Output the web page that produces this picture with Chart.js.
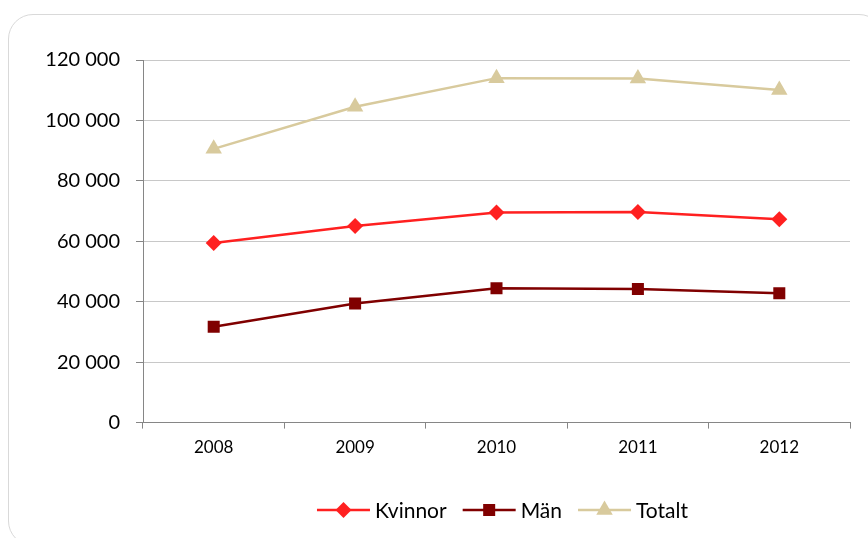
<!DOCTYPE html>
<html lang="sv">
<head>
<meta charset="utf-8">
<script src="https://cdn.jsdelivr.net/npm/chart.js@4.4.1/dist/chart.umd.min.js"></script>
<style>
  html, body { margin: 0; padding: 0; background: #fff; overflow: hidden; }
  #ram {
    position: absolute; left: 8px; top: 14px;
    width: 874px; height: 530px;
    border: 1px solid #d9d9d9; border-radius: 25px;
  }
  #wrap { position: absolute; left: 0; top: 0; width: 868px; height: 538px; }
</style>
</head>
<body>
<div id="ram"></div>
<div id="wrap"><canvas id="graf" width="868" height="538"></canvas></div>
<script>
// data läst från bilden
const ar = ['2008', '2009', '2010', '2011', '2012'];
const kvinnor = [59400, 65100, 69500, 69700, 67300];
const man = [31700, 39400, 44500, 44200, 42800];
const totalt = [90600, 104500, 114000, 113900, 110100];
const yTicks = [0, 20000, 40000, 60000, 80000, 100000, 120000];

const FONT = 'Lato';

function tusental(v) {
    return String(v).replace(/\B(?=(\d{3})+(?!\d))/g, ' ');
}

// egen legend: linje + markör + text
const legenda = {
    id: 'legenda',
    afterDraw(chart) {
        const ctx = chart.ctx;
        const y = 510;
        const lineLen = 53, gapText = 5, gapItem = 16;
        ctx.save();
        ctx.font = '21px ' + FONT;
        const items = chart.data.datasets.map(ds => ({
            ds: ds,
            w: lineLen + gapText + ctx.measureText(ds.label).width
        }));
        const total = items.reduce((s, it) => s + it.w, 0) + gapItem * (items.length - 1);
        let x = (chart.chartArea.left + chart.chartArea.right) / 2 + 6 - total / 2;
        items.forEach(it => {
            const ds = it.ds;
            ctx.strokeStyle = ds.borderColor;
            ctx.lineWidth = ds.borderWidth;
            ctx.beginPath();
            ctx.moveTo(x, y);
            ctx.lineTo(x + lineLen, y);
            ctx.stroke();
            ctx.fillStyle = ds.pointBackgroundColor;
            Chart.helpers.drawPoint(ctx, {
                pointStyle: ds.pointStyle,
                radius: ds.pointRadius,
                rotation: 0,
                borderWidth: 0
            }, x + lineLen / 2, y);
            ctx.fillStyle = '#000';
            ctx.textBaseline = 'middle';
            ctx.textAlign = 'left';
            ctx.fillText(ds.label, x + lineLen + gapText, y + 1);
            x += it.w + gapItem;
        });
        ctx.restore();
    }
};

const serie = (label, data, color, style, r) => ({
    label: label,
    data: data,
    borderColor: color,
    backgroundColor: color,
    pointBackgroundColor: color,
    borderWidth: 2.5,
    pointStyle: style,
    pointRadius: r,
    pointHoverRadius: r,
    pointBorderWidth: 0,
    tension: 0
});

new Chart(document.getElementById('graf'), {
    type: 'line',
    data: {
        labels: ar,
        datasets: [
            serie('Kvinnor', kvinnor, '#ff2020', 'rectRot', 8),
            serie('Män', man, '#800000', 'rect', 8.5),
            serie('Totalt', totalt, '#d8ca9d', 'triangle', 9.5)
        ]
    },
    plugins: [legenda],
    options: {
        responsive: false,
        animation: false,
        devicePixelRatio: 1,
        layout: { padding: { top: 60, right: 18, bottom: 71, left: 0 } },
        plugins: {
            legend: { display: false },
            tooltip: { enabled: false }
        },
        scales: {
            x: {
                offset: true,
                grid: {
                    offset: true,
                    drawOnChartArea: false,
                    tickLength: 6,
                    tickColor: '#868686'
                },
                border: { color: '#868686', width: 1 },
                ticks: {
                    padding: 9,
                    color: '#000',
                    font: { family: FONT, size: 17 }
                }
            },
            y: {
                min: yTicks[0],
                max: yTicks[yTicks.length - 1],
                afterBuildTicks: s => { s.ticks = yTicks.map(v => ({ value: v })); },
                afterFit: s => { s.width = 143; },
                grid: {
                    color: '#c8c8c8',
                    tickLength: 7,
                    tickColor: '#868686'
                },
                border: { color: '#868686', width: 1 },
                ticks: {
                    padding: 16,
                    color: '#000',
                    font: { family: FONT, size: 20 },
                    callback: v => tusental(v)
                }
            }
        }
    }
});
</script>
</body>
</html>
